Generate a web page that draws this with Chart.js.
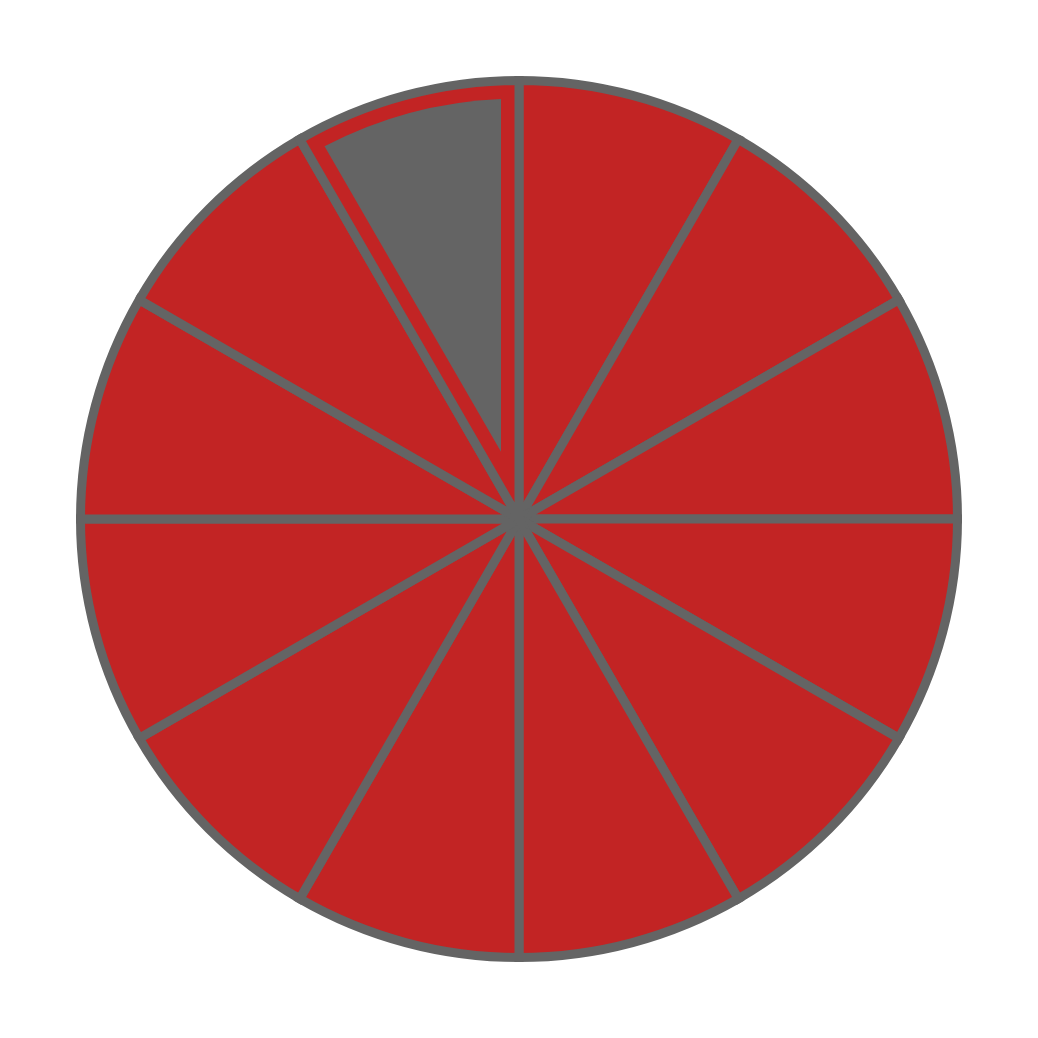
<!DOCTYPE html>
<html>
<head>
<meta charset="utf-8">
<script src="https://cdn.jsdelivr.net/npm/chart.js@4/dist/chart.umd.min.js"></script>
<style>
  html, body { margin: 0; padding: 0; background: #ffffff; }
  #wrap { width: 1038px; height: 1038px; }
</style>
</head>
<body>
<div id="wrap"><canvas id="c" width="1038" height="1038"></canvas></div>
<script>
// Data
const labels = ['1', '2', '3', '4', '5', '6', '7', '8', '9', '10', '11', '12'];
const values = [1, 1, 1, 1, 1, 1, 1, 1, 1, 1, 1, 1];
const highlighted = [false, false, false, false, false, false, false, false, false, false, false, true];

const RED = '#c22424';
const GREY = '#646464';

// Draws the inset grey wedge inside highlighted slices, using the arc elements' geometry
const insetPlugin = {
  id: 'insetWedge',
  afterDatasetsDraw(chart) {
    const meta = chart.getDatasetMeta(0);
    const ctx = chart.ctx;
    const inset = 18;
    meta.data.forEach((arc, i) => {
      if (!highlighted[i]) return;
      const { x, y, startAngle, endAngle, outerRadius } = arc.getProps(['x', 'y', 'startAngle', 'endAngle', 'outerRadius'], true);
      const half = (endAngle - startAngle) / 2;
      const mid = startAngle + half;
      const d = inset / Math.sin(half);
      const r2 = outerRadius - inset;
      const da = Math.asin(inset / r2);
      const a1 = startAngle + da;
      const a2 = endAngle - da;
      ctx.save();
      ctx.beginPath();
      ctx.moveTo(x + d * Math.cos(mid), y + d * Math.sin(mid));
      ctx.lineTo(x + r2 * Math.cos(a1), y + r2 * Math.sin(a1));
      ctx.arc(x, y, r2, a1, a2, false);
      ctx.closePath();
      ctx.fillStyle = GREY;
      ctx.fill();
      ctx.restore();
    });
  }
};

new Chart(document.getElementById('c'), {
  type: 'pie',
  data: {
    labels: labels,
    datasets: [{
      data: values,
      backgroundColor: RED,
      borderColor: GREY,
      borderWidth: 9,
      borderJoinStyle: 'miter',
      hoverOffset: 0
    }]
  },
  options: {
    responsive: false,
    animation: false,
    layout: { padding: 76 },
    plugins: {
      legend: { display: false },
      tooltip: { enabled: false }
    }
  },
  plugins: [insetPlugin]
});
</script>
</body>
</html>
